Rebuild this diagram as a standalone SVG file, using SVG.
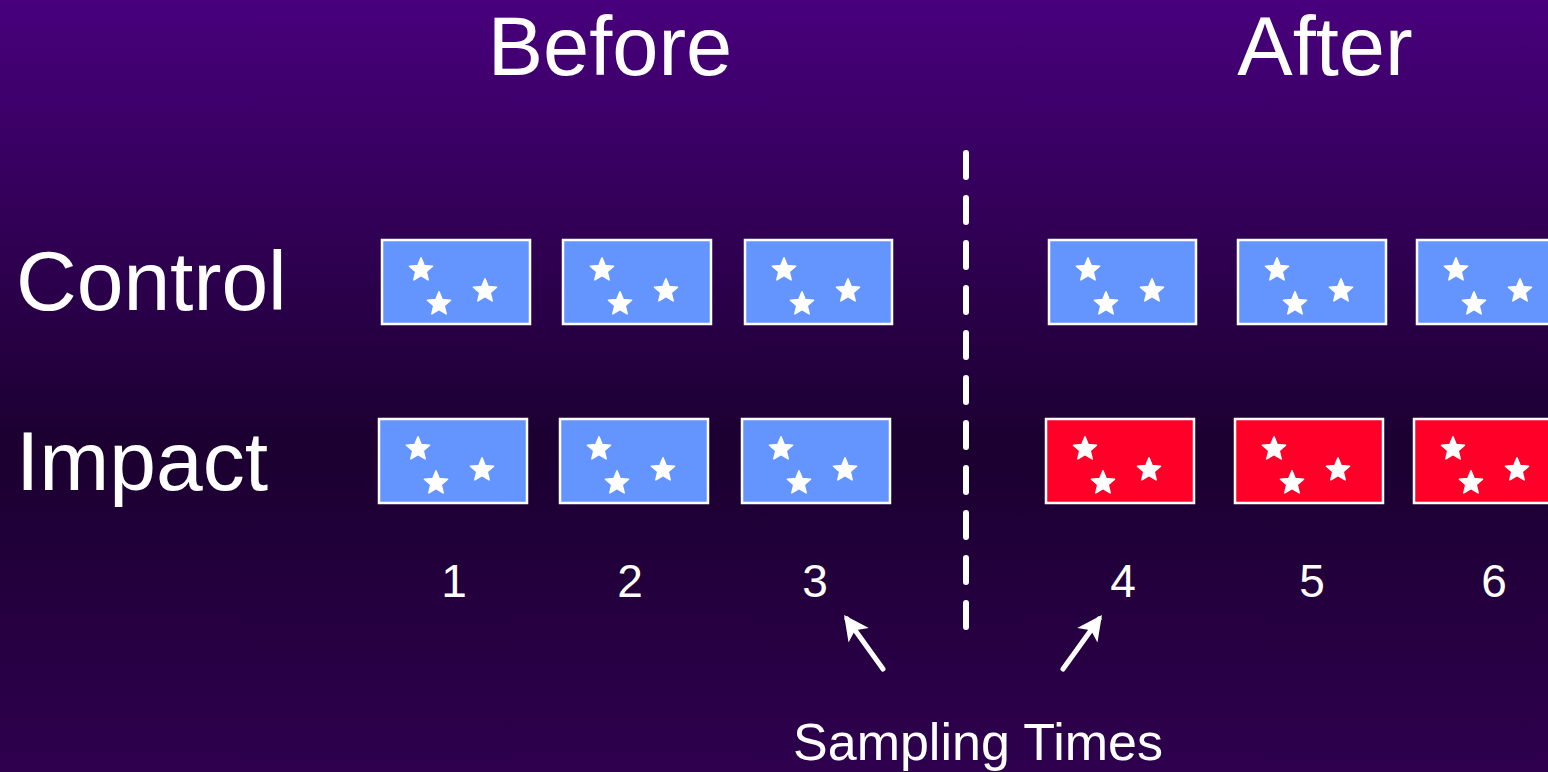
<svg xmlns="http://www.w3.org/2000/svg" xmlns:xlink="http://www.w3.org/1999/xlink" width="1548" height="772" viewBox="0 0 1548 772">
<defs>
<linearGradient id="bg" x1="0" y1="0" x2="0" y2="1">
<stop offset="0" stop-color="#48007c"/>
<stop offset="0.58" stop-color="#1b0030"/>
<stop offset="1" stop-color="#2e004e"/>
</linearGradient>
<path id="star" d="M0,-12.2 L3.2,-4.4 L11.6,-3.8 L5.2,1.7 L7.2,9.9 L0,5.5 L-7.2,9.9 L-5.2,1.7 L-11.6,-3.8 L-3.2,-4.4 Z"/>
<g id="stars">
<use xlink:href="#star" x="39" y="30"/>
<use xlink:href="#star" x="57" y="64"/>
<use xlink:href="#star" x="103" y="51"/>
</g>
<marker id="ah" viewBox="0 0 10 10" refX="8" refY="5" markerWidth="5" markerHeight="5" orient="auto" markerUnits="strokeWidth">
<path d="M0,0 L10,5 L0,10 L2.5,5 Z" fill="#fff"/>
</marker>
</defs>
<style>
.t{font-family:"Liberation Sans",Arial,sans-serif;fill:#fff}
.blue{fill:#6495fe;stroke:#fff;stroke-width:2.5}
.red{fill:#ff0028;stroke:#fff;stroke-width:2.5}
.st use{fill:#fff;stroke:#fff;stroke-width:1.5;stroke-linejoin:round}
</style>
<rect width="1548" height="772" fill="url(#bg)"/>
<text class="t" x="610" y="75" font-size="83" text-anchor="middle">Before</text>
<text class="t" x="1325" y="75" font-size="83" text-anchor="middle">After</text>
<text class="t" x="16" y="310" font-size="84">Control</text>
<text class="t" x="16" y="490" font-size="84">Impact</text>
<g id="control">
<g id="c1" transform="translate(382,240)"><rect class="blue" width="148" height="84"/><g class="st"><use xlink:href="#stars"/></g></g>
<g id="c2" transform="translate(563,240)"><rect class="blue" width="148" height="84"/><g class="st"><use xlink:href="#stars"/></g></g>
<g id="c3" transform="translate(745,240)"><rect class="blue" width="147" height="84"/><g class="st"><use xlink:href="#stars"/></g></g>
<g id="c4" transform="translate(1049,240)"><rect class="blue" width="147" height="84"/><g class="st"><use xlink:href="#stars"/></g></g>
<g id="c5" transform="translate(1238,240)"><rect class="blue" width="148" height="84"/><g class="st"><use xlink:href="#stars"/></g></g>
<g id="c6" transform="translate(1417,240)"><rect class="blue" width="148" height="84"/><g class="st"><use xlink:href="#stars"/></g></g>
</g>
<g id="impact">
<g id="i1" transform="translate(379,419)"><rect class="blue" width="148" height="84"/><g class="st"><use xlink:href="#stars"/></g></g>
<g id="i2" transform="translate(560,419)"><rect class="blue" width="148" height="84"/><g class="st"><use xlink:href="#stars"/></g></g>
<g id="i3" transform="translate(742,419)"><rect class="blue" width="148" height="84"/><g class="st"><use xlink:href="#stars"/></g></g>
<g id="i4" transform="translate(1046,419)"><rect class="red" width="148" height="84"/><g class="st"><use xlink:href="#stars"/></g></g>
<g id="i5" transform="translate(1235,419)"><rect class="red" width="148" height="84"/><g class="st"><use xlink:href="#stars"/></g></g>
<g id="i6" transform="translate(1414,419)"><rect class="red" width="148" height="84"/><g class="st"><use xlink:href="#stars"/></g></g>
</g>
<g id="numbers" class="t" font-size="46" text-anchor="middle">
<text x="454" y="597">1</text>
<text x="630" y="597">2</text>
<text x="815" y="597">3</text>
<text x="1123" y="597">4</text>
<text x="1312" y="597">5</text>
<text x="1494" y="597">6</text>
</g>
<g id="connectors" stroke="#fff" fill="none" stroke-linecap="round">
<line x1="966" y1="153" x2="966" y2="627" stroke-width="6" stroke-dasharray="24 21"/>
<line x1="883" y1="669" x2="847" y2="619" stroke-width="5" marker-end="url(#ah)"/>
<line x1="1063" y1="669" x2="1099" y2="619" stroke-width="5" marker-end="url(#ah)"/>
</g>
<text class="t" x="978" y="760" font-size="52" text-anchor="middle">Sampling Times</text>
</svg>
